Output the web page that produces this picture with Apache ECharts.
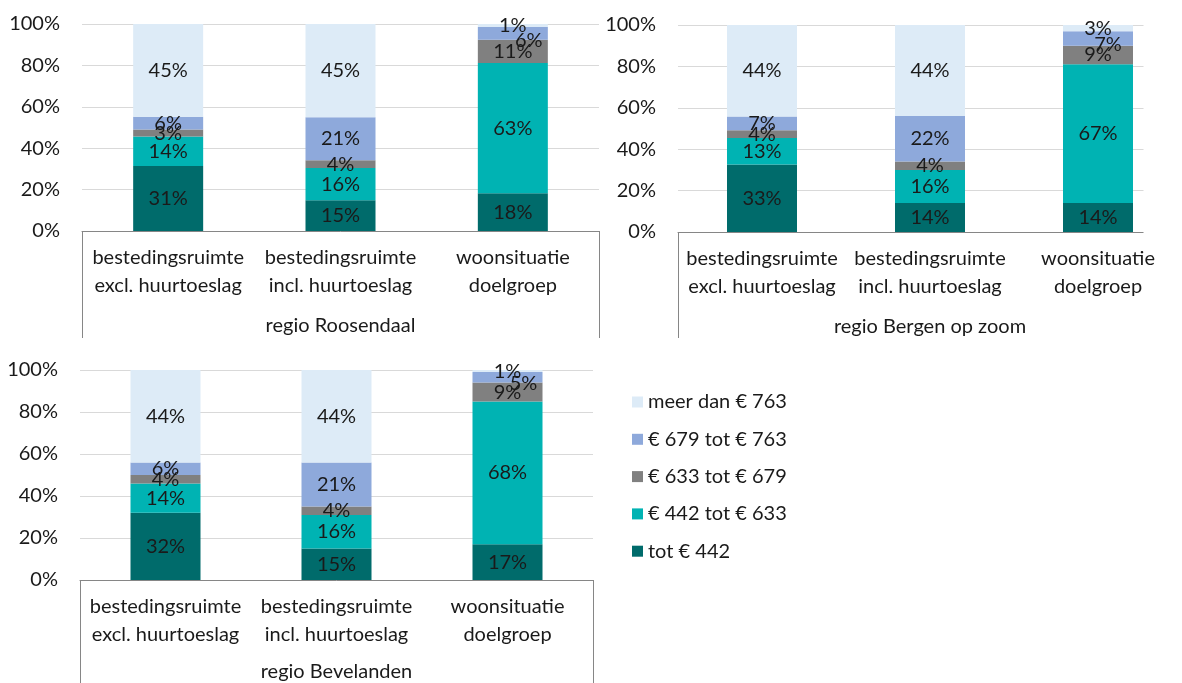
<!DOCTYPE html>
<html>
<head>
<meta charset="utf-8">
<script src="https://cdn.jsdelivr.net/npm/echarts@6/dist/echarts.min.js"></script>
<style>
html,body{margin:0;padding:0;background:#fff;}
#c{width:1182px;height:683px;}
</style>
</head>
<body>
<div id="c"></div>
<script>
// ---- data ----
const categories = ['bestedingsruimte excl. huurtoeslag', 'bestedingsruimte incl. huurtoeslag', 'woonsituatie doelgroep'];
const regions = ['regio Roosendaal', 'regio Bergen op zoom', 'regio Bevelanden'];
const seriesNames = ['tot € 442', '€ 442 tot € 633', '€ 633 tot € 679', '€ 679 tot € 763', 'meer dan € 763'];
const yTicks = [0, 20, 40, 60, 80, 100];
// each row: one series (bottom to top), values per category (%)
const roosendaal = [
  [31.4, 14.8, 18.2],
  [14.2, 15.6, 63.0],
  [3.4, 3.8, 11.2],
  [6.2, 20.8, 6.2],
  [44.8, 45.0, 1.4]
];
const bergenOpZoom = [
  [32.6, 14, 14],
  [12.8, 16, 67],
  [3.8, 4, 9],
  [6.6, 22, 7],
  [44.2, 44, 3]
];
const bevelanden = [
  [32, 15, 17],
  [14, 16, 68],
  [4, 4, 9],
  [6, 21, 5],
  [44, 44, 1]
];
const regionData = [roosendaal, bergenOpZoom, bevelanden];

// ---- styling ----
const FONT = 'Lato';
const FS = 20;
const colors = ['#006B6B', '#00B3B3', '#808080', '#8EA9DB', '#DDEBF7'];
const grids = [
  {left: 82, top: 24, width: 517, height: 207},
  {left: 678, top: 25, width: 514, height: 207},
  {left: 80, top: 370, width: 513, height: 210}
];
const groupTick = [107, 106, 110];
const groupMargin = [85, 85, 82];
const moveLabel = [[16, 7], [10, 6], [16, 6]];
const axisColor = '#868686';

const xAxes = [], yAxes = [], series = [];
grids.forEach((g, gi) => {
  xAxes.push({
    type: 'category', gridIndex: gi, data: categories, position: 'bottom',
    axisLine: {show: true, lineStyle: {color: axisColor, width: 1}},
    axisTick: {show: false},
    axisLabel: {
      interval: 0, margin: 13, color: '#1a1a1a', fontFamily: FONT, fontSize: FS, lineHeight: 28,
      formatter: v => v.replace(' ', '\n')
    }
  });
  xAxes.push({
    type: 'category', gridIndex: gi, data: [regions[gi]], position: 'bottom', offset: 0,
    axisLine: {show: false},
    axisTick: {show: true, length: groupTick[gi], lineStyle: {color: axisColor, width: 1}},
    axisLabel: {margin: groupMargin[gi], color: '#1a1a1a', fontFamily: FONT, fontSize: FS, lineHeight: 20}
  });
  yAxes.push({
    type: 'value', gridIndex: gi, min: yTicks[0], max: yTicks[yTicks.length - 1], interval: yTicks[1] - yTicks[0],
    axisLine: {show: false}, axisTick: {show: false},
    splitLine: {lineStyle: {color: '#D9D9D9', width: 1}},
    axisLabel: {margin: 22, color: '#1a1a1a', fontFamily: FONT, fontSize: FS, formatter: '{value}%'}
  });
  regionData[gi].forEach((vals, si) => {
    series.push({
      type: 'bar', name: seriesNames[si], stack: 'r' + gi,
      xAxisIndex: gi * 2, yAxisIndex: gi,
      barWidth: 70,
      itemStyle: {color: colors[si]},
      label: {
        show: true, position: 'inside', color: '#1a1a1a', fontFamily: FONT, fontSize: FS,
        formatter: p => Math.round(p.value) + '%'
      },
      data: vals.map((v, ci) => (si === 3 && ci === 2) ? {value: v, label: {offset: moveLabel[gi]}} : v)
    });
  });
});

const chart = echarts.init(document.getElementById('c'), null, {renderer: 'canvas'});
chart.setOption({
  animation: false,
  backgroundColor: '#fff',
  textStyle: {fontFamily: FONT},
  grid: grids.map(g => Object.assign({containLabel: false}, g)),
  xAxis: xAxes,
  yAxis: yAxes,
  legend: {
    orient: 'vertical', left: 627, top: 387,
    itemWidth: 11, itemHeight: 11, itemGap: 17.3, icon: 'rect',
    data: seriesNames.slice().reverse(),
    textStyle: {fontFamily: FONT, fontSize: FS, color: '#1a1a1a', lineHeight: 16}
  },
  graphic: [{
    type: 'rect', z: 1, silent: true,
    shape: {x: 1143.5, y: 0, width: 45, height: 236},
    style: {fill: '#ffffff'}
  }],
  series: series
});
</script>
</body>
</html>
